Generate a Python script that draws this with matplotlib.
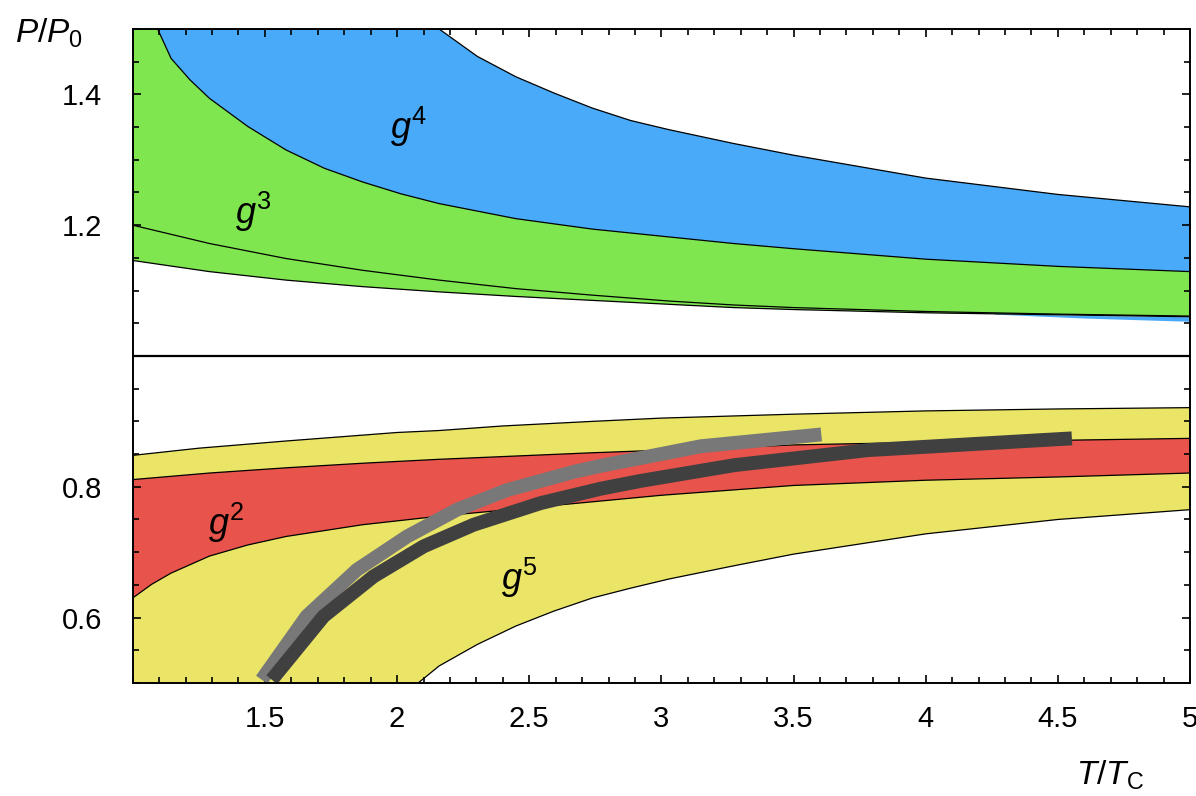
import numpy as np
import matplotlib.pyplot as plt
from matplotlib.ticker import MultipleLocator, FixedLocator

plt.rcParams['font.family'] = ['Liberation Sans', 'DejaVu Sans']
plt.rcParams['mathtext.fontset'] = 'custom'
plt.rcParams['mathtext.it'] = 'Liberation Sans:italic'
plt.rcParams['mathtext.rm'] = 'Liberation Sans'

# ---- upper part (P/P0 > 1) ----
# g^4 band (blue); values above the frame are held at the top (1.5)
blue_hi_x = [1.094, 2.159, 2.304, 2.449, 2.594, 2.739, 2.884, 3.029, 3.272, 3.5, 4.0, 4.5, 5.0]
blue_hi = [1.5, 1.5, 1.458, 1.427, 1.402, 1.379, 1.360, 1.346, 1.325, 1.307, 1.272, 1.247, 1.228]
blue_lo_x = [1.094, 1.145, 1.217, 1.29, 1.435, 1.58, 1.725, 1.87, 2.014, 2.159, 2.449,
             2.739, 3.029, 3.272, 3.5, 4.0, 4.5, 5.0]
blue_lo = [1.5, 1.455, 1.422, 1.394, 1.351, 1.315, 1.287, 1.266, 1.248, 1.233, 1.210,
           1.194, 1.182, 1.172, 1.164, 1.148, 1.137, 1.129]

# g^3 band (green): its upper edge is the blue lower edge
green_lo_x = [1.0, 1.29, 1.58, 1.87, 2.159, 2.449, 2.739, 3.029, 3.272, 3.5, 4.0, 4.5, 5.0]
green_lo = [1.146, 1.129, 1.116, 1.106, 1.098, 1.091, 1.085, 1.079, 1.074, 1.071, 1.066, 1.063, 1.060]

inner_x = [1.0, 1.29, 1.58, 1.87, 2.159, 2.449, 2.739, 3.029, 3.272, 3.5, 4.0, 4.5, 5.0]
inner_y = [1.200, 1.172, 1.149, 1.131, 1.116, 1.103, 1.093, 1.084, 1.078, 1.074, 1.068, 1.064, 1.061]

sliver_x = [4.26, 4.6, 5.0]
sliver_hi = [1.065, 1.062, 1.060]
sliver_lo = [1.064, 1.058, 1.053]

# ---- lower part (P/P0 < 1) ----
# g^5 band (yellow)
yel_hi_x = [1.0, 1.25, 1.58, 2.0, 2.159, 2.4, 2.739, 3.0, 3.5, 4.0, 4.5, 5.0]
yel_hi = [0.848, 0.859, 0.870, 0.883, 0.886, 0.893, 0.900, 0.905, 0.911, 0.916, 0.919, 0.921]
yel_lo_x = [2.08, 2.159, 2.304, 2.449, 2.594, 2.739, 2.884, 3.029, 3.272, 3.5, 4.0, 4.5, 5.0]
yel_lo = [0.5, 0.526, 0.559, 0.587, 0.610, 0.630, 0.645, 0.659, 0.679, 0.697, 0.728, 0.750, 0.765]

# g^2 band (red)
red_hi_x = [1.0, 1.29, 1.58, 1.87, 2.159, 2.449, 2.739, 3.272, 3.5, 4.0, 4.5, 5.0]
red_hi = [0.811, 0.821, 0.829, 0.836, 0.842, 0.847, 0.852, 0.860, 0.864, 0.868, 0.871, 0.874]
red_lo_x = [1.0, 1.072, 1.145, 1.29, 1.435, 1.58, 1.87, 2.159, 2.449, 2.739, 3.0, 3.5, 4.0, 4.5, 5.0]
red_lo = [0.630, 0.651, 0.668, 0.694, 0.711, 0.724, 0.742, 0.755, 0.766, 0.777, 0.787, 0.802, 0.810, 0.815, 0.821]

# thick curves
gray_x = [1.488, 1.658, 1.848, 2.038, 2.227, 2.417, 2.670, 2.77, 2.922, 3.15, 3.605]
gray_y = [0.505, 0.602, 0.673, 0.724, 0.765, 0.795, 0.823, 0.832, 0.844, 0.862, 0.880]
dark_x = [1.526, 1.722, 1.911, 2.101, 2.290, 2.543, 2.77, 2.922, 3.275, 3.78, 4.553]
dark_y = [0.505, 0.602, 0.663, 0.709, 0.742, 0.775, 0.797, 0.809, 0.833, 0.856, 0.874]

c_blue = '#48aaf8'
c_green = '#80e650'
c_yellow = '#eae467'
c_red = '#e8534b'

fig = plt.figure(figsize=(11.96, 7.96), dpi=100)
ax = fig.add_axes([0.111, 0.142, 0.884, 0.8216])

# upper bands
gx = np.concatenate([[1.0], blue_lo_x, green_lo_x[::-1]])
gy = np.concatenate([[1.5], blue_lo, green_lo[::-1]])
ax.fill(gx, gy, color=c_green, lw=0)
bx = np.concatenate([blue_hi_x, blue_lo_x[::-1]])
by = np.concatenate([blue_hi, blue_lo[::-1]])
ax.fill(bx, by, color=c_blue, lw=0)
ax.fill_between(sliver_x, sliver_lo, sliver_hi, color=c_blue, lw=0)
for xs, ys in [(blue_hi_x, blue_hi), (blue_lo_x, blue_lo), (green_lo_x, green_lo),
               (inner_x, inner_y)]:
    ax.plot(xs, ys, color='black', lw=0.9)

# lower bands
yx = np.concatenate([yel_hi_x, yel_lo_x[::-1], [1.0]])
yy = np.concatenate([yel_hi, yel_lo[::-1], [0.5]])
ax.fill(yx, yy, color=c_yellow, lw=0)
rx = np.concatenate([red_hi_x, red_lo_x[::-1]])
ry = np.concatenate([red_hi, red_lo[::-1]])
ax.fill(rx, ry, color=c_red, lw=0)
for xs, ys in [(yel_hi_x, yel_hi), (yel_lo_x, yel_lo), (red_hi_x, red_hi), (red_lo_x, red_lo)]:
    ax.plot(xs, ys, color='black', lw=0.9)

ax.plot(gray_x, gray_y, color='#787878', lw=10, solid_capstyle='butt', solid_joinstyle='round')
ax.plot(dark_x, dark_y, color='#404040', lw=10, solid_capstyle='butt', solid_joinstyle='round')

# separator between the two parts
ax.axhline(1.0, color='black', lw=1.6)

# labels of the bands
ax.text(2.043, 1.350, '$g^4$', fontsize=26, ha='center', va='center')
ax.text(1.455, 1.221, '$g^3$', fontsize=26, ha='center', va='center')
ax.text(1.353, 0.745, '$g^2$', fontsize=26, ha='center', va='center')
ax.text(2.464, 0.660, '$g^5$', fontsize=26, ha='center', va='center')

ax.set_xlim(1.0, 5.0)
ax.set_ylim(0.5, 1.5)
ax.xaxis.set_major_locator(FixedLocator([1.5, 2, 2.5, 3, 3.5, 4, 4.5, 5]))
ax.xaxis.set_minor_locator(MultipleLocator(0.1))
ax.set_xticklabels(['1.5', '2', '2.5', '3', '3.5', '4', '4.5', '5'])
ax.yaxis.set_major_locator(FixedLocator([0.6, 0.8, 1.2, 1.4]))
ax.yaxis.set_minor_locator(MultipleLocator(0.05))
ax.set_yticklabels(['0.6', '0.8', '1.2', '1.4'])
ax.tick_params(which='both', direction='in', top=True, right=True, labelsize=21, width=1.2)
ax.tick_params(which='major', length=6)
ax.tick_params(which='minor', length=4)
ax.tick_params(axis='x', pad=16)
ax.tick_params(axis='y', pad=22)
for s in ax.spines.values():
    s.set_linewidth(1.4)

fig.text(15 / 1196, 1 - 43 / 796, '$P/P_0$', fontsize=24, ha='left', va='baseline')
fig.text(1076 / 1196, 1 - 785 / 796, '$T/T_\\mathrm{C}$', fontsize=24, ha='left', va='baseline')

fig.savefig('out.png', dpi=100)
